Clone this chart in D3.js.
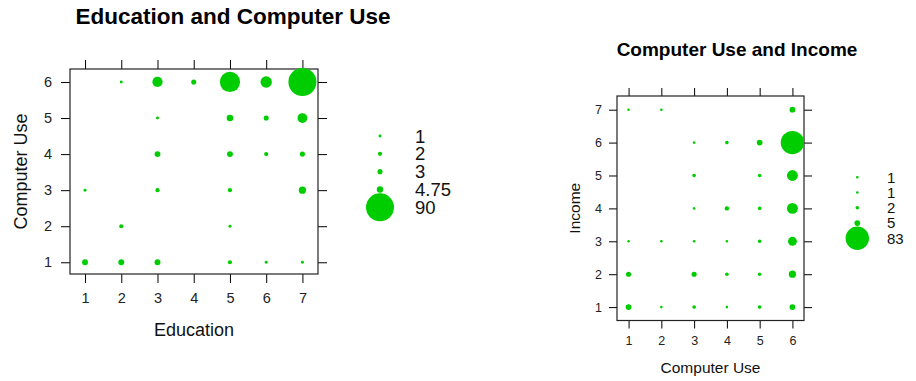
<!DOCTYPE html>
<html>
<head>
<meta charset="utf-8">
<script src="https://cdn.jsdelivr.net/npm/d3@7"></script>
<style>
  html, body { margin: 0; padding: 0; background: #fff; }
  svg { display: block; font-family: "Liberation Sans", Arial, sans-serif; }
</style>
</head>
<body>
<svg id="chart" width="916" height="381"></svg>
<script>
// ---------- data ----------
const educationLevels = [1, 2, 3, 4, 5, 6, 7];
const computerUseLevels = [1, 2, 3, 4, 5, 6];
const incomeLevels = [1, 2, 3, 4, 5, 6, 7];

// Education (columns 1..7) x Computer Use (rows 1..6), counts (0 = no point)
const eduCompCounts = [
  [4, 4, 4, 0, 2, 1, 1],    // Computer Use 1
  [0, 2, 0, 0, 1, 0, 0],    // 2
  [1, 0, 2, 0, 2, 0, 6],    // 3
  [0, 0, 4, 0, 4, 2, 3],    // 4
  [0, 0, 1, 0, 5, 3, 11],   // 5
  [0, 1, 12, 3, 47, 15, 90] // 6
];
// Computer Use (columns 1..6) x Income (rows 1..7)
const compIncomeCounts = [
  [5, 1, 2, 1, 2, 5],    // Income 1
  [4, 0, 4, 2, 2, 8],    // 2
  [1, 1, 1, 1, 2, 12],   // 3
  [0, 0, 1, 3, 2, 18],   // 4
  [0, 0, 2, 0, 2, 18],   // 5
  [0, 0, 1, 2, 5, 83],   // 6
  [1, 1, 0, 0, 0, 5]     // 7
];

const legend1Values = [1, 2, 3, 4.75, 90];
const legend1Labels = ["1", "2", "3", "4.75", "90"];
const legend2Values = [1, 1, 2, 5, 83];
const legend2Labels = ["1", "1", "2", "5", "83"];

const titles = ["Education and Computer Use", "Computer Use and Income"];

// ---------- drawing ----------
const svg = d3.select("#chart");
const green = "#00CD00";

function flatten(counts, xs, ys) {
  const out = [];
  counts.forEach((row, i) => row.forEach((n, j) => {
    if (n > 0) out.push({x: xs[j], y: ys[i], n});
  }));
  return out;
}

function panel(cfg) {
  const g = svg.append("g");
  const x = d3.scaleLinear().domain(cfg.xDomain).range(cfg.xRange);
  const y = d3.scaleLinear().domain(cfg.yDomain).range(cfg.yRange);
  const r = d3.scaleSqrt().domain([0, cfg.maxN]).range([0, cfg.maxR]);

  const styleAxis = (sel, fs) => {
    sel.select(".domain").remove();
    sel.selectAll(".tick line").attr("stroke", "#000").attr("stroke-width", 1);
    sel.selectAll(".tick text").attr("fill", "#222").style("font-size", fs + "px")
      .style("font-family", '"Liberation Sans", Arial, sans-serif');
  };

  const [x0, x1] = cfg.xRange, [y0, y1] = cfg.yRange; // y0 bottom, y1 top
  g.append("g").attr("transform", `translate(0,${y0})`)
    .call(d3.axisBottom(x).tickValues(cfg.xTicks).tickFormat(d3.format("d"))
      .tickSizeInner(cfg.tick).tickSizeOuter(0).tickPadding(cfg.padX))
    .call(s => styleAxis(s, cfg.fs));
  g.append("g").attr("transform", `translate(0,${y1})`)
    .call(d3.axisTop(x).tickValues(cfg.xTicks).tickFormat("")
      .tickSizeInner(cfg.tick).tickSizeOuter(0))
    .call(s => styleAxis(s, cfg.fs));
  g.append("g").attr("transform", `translate(${x0},0)`)
    .call(d3.axisLeft(y).tickValues(cfg.yTicks).tickFormat(d3.format("d"))
      .tickSizeInner(cfg.tick).tickSizeOuter(0).tickPadding(cfg.padY))
    .call(s => styleAxis(s, cfg.fs));
  g.append("g").attr("transform", `translate(${x1},0)`)
    .call(d3.axisRight(y).tickValues(cfg.yTicks).tickFormat("")
      .tickSizeInner(cfg.tick).tickSizeOuter(0))
    .call(s => styleAxis(s, cfg.fs));

  g.append("rect")
    .attr("x", x0).attr("y", y1).attr("width", x1 - x0).attr("height", y0 - y1)
    .attr("fill", "none").attr("stroke", "#222").attr("stroke-width", 1.2);

  g.append("g").selectAll("circle").data(cfg.points).join("circle")
    .attr("cx", d => x(d.x)).attr("cy", d => y(d.y)).attr("r", d => r(d.n))
    .attr("fill", green);

  // titles
  g.append("text").attr("x", cfg.titleX).attr("y", cfg.titleY)
    .attr("text-anchor", "middle").attr("font-weight", "bold")
    .style("font-size", cfg.titleFs + "px").attr("fill", "#000").text(cfg.title);
  g.append("text").attr("x", (x0 + x1) / 2).attr("y", cfg.xLabY)
    .attr("text-anchor", "middle").style("font-size", cfg.labFs + "px")
    .attr("fill", "#111").text(cfg.xLab);
  g.append("text")
    .attr("transform", `translate(${cfg.yLabX},${(y0 + y1) / 2}) rotate(-90)`)
    .attr("text-anchor", "middle").style("font-size", cfg.labFs + "px")
    .attr("fill", "#111").text(cfg.yLab);

  // legend
  const ly = d3.scalePoint().domain(d3.range(cfg.legValues.length)).range(cfg.legY);
  const lg = g.append("g");
  lg.selectAll("circle").data(cfg.legValues).join("circle")
    .attr("cx", cfg.legX).attr("cy", (d, i) => ly(i)).attr("r", d => r(d))
    .attr("fill", green);
  lg.selectAll("text").data(cfg.legLabels).join("text")
    .attr("x", cfg.legTextX).attr("y", (d, i) => ly(i)).attr("dy", "0.36em")
    .style("font-size", cfg.legFs + "px").attr("fill", "#111").text(d => d);
}

panel({
  xDomain: [0.585, 7.43], xRange: [70, 318],
  yDomain: [0.675, 6.36], yRange: [274, 69],
  xTicks: educationLevels, yTicks: computerUseLevels,
  tick: 9, padX: 10, padY: 9, fs: 14.5,
  points: flatten(eduCompCounts, educationLevels, computerUseLevels),
  maxN: 90, maxR: 14,
  title: titles[0], titleX: 233, titleY: 24, titleFs: 22.5,
  xLab: "Education", xLabY: 336, yLab: "Computer Use", yLabX: 27, labFs: 18,
  legValues: legend1Values, legLabels: legend1Labels,
  legX: 380, legY: [136, 207.3], legTextX: 415, legFs: 18.5
});

panel({
  xDomain: [0.647, 6.353], xRange: [617, 804],
  yDomain: [0.593, 7.416], yRange: [320.5, 96],
  xTicks: computerUseLevels, yTicks: incomeLevels,
  tick: 8, padX: 8, padY: 7, fs: 12.5,
  points: flatten(compIncomeCounts, computerUseLevels, incomeLevels),
  maxN: 83, maxR: 11.7,
  title: titles[1], titleX: 737, titleY: 56, titleFs: 19,
  xLab: "Computer Use", xLabY: 372.5, yLab: "Income", yLabX: 580, labFs: 15.5,
  legValues: legend2Values, legLabels: legend2Labels,
  legX: 857.3, legY: [177.3, 238.3], legTextX: 887, legFs: 15
});
</script>
</body>
</html>
